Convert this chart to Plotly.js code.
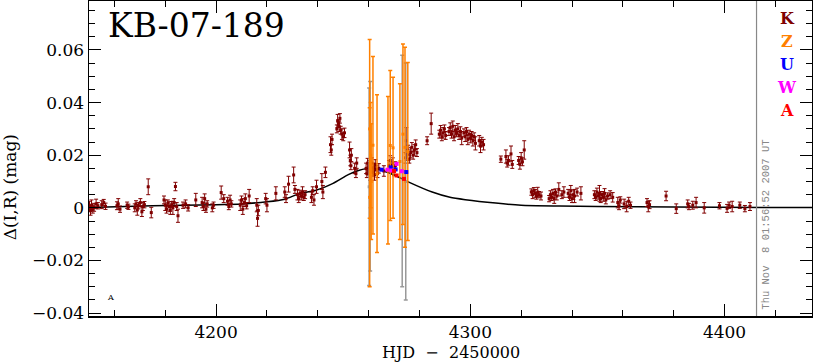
<!DOCTYPE html>
<html><head><meta charset="utf-8">
<script src="https://cdn.plot.ly/plotly-3.0.1.min.js"></script>
</head><body style="margin:0"><div id="chart"></div>
<script>
// Model curve
const modelT = [4150,4175,4200,4210,4220,4227,4233,4239,4246,4252,4256,4259,4262,4265,4270,4276,4285,4292,4298,4310,4320,4335,4350,4380,4435];
const modelY = [0.0001,0.0008,0.0012,0.0015,0.0023,0.0033,0.0055,0.0066,0.0093,0.0126,0.0142,0.0149,0.0150,0.0143,0.0125,0.0097,0.0060,0.0040,0.0031,0.0018,0.0010,0.0007,0.0005,0.0003,0.0001];

// K observatory
const kT = [4150.2,4150.6,4151.0,4151.5,4152.0,4152.8,4153.5,4155.0,4155.8,4156.5,4161.0,4161.5,4162.2,4165.0,4165.5,4168.0,4168.5,4169.0,4169.5,4170.2,4170.8,4171.2,4171.8,4173.3,4174.5,4179.5,4180.0,4180.5,4181.0,4181.5,4182.0,4182.5,4183.0,4183.5,4184.0,4184.5,4185.0,4187.0,4188.0,4189.0,4192.0,4194.5,4195.0,4195.5,4196.0,4196.5,4198.5,4199.0,4202.0,4203.0,4204.5,4205.0,4205.5,4206.0,4209.5,4210.0,4210.5,4211.0,4211.5,4212.0,4213.0,4216.0,4216.3,4216.6,4219.5,4220.0,4223.5,4227.0,4227.5,4228.5,4230.5,4231.0,4232.0,4232.5,4233.0,4233.5,4234.0,4234.5,4235.0,4237.5,4238.0,4238.5,4239.5,4241.6,4242.0,4243.0,4245.0,4245.3,4245.6,4247.5,4247.8,4248.1,4248.4,4248.7,4249.0,4249.5,4250.0,4250.5,4252.5,4252.8,4253.0,4253.2,4254.5,4255.0,4255.3,4259.0,4259.3,4259.6,4260.0,4260.3,4260.6,4261.0,4261.3,4261.6,4262.0,4262.3,4262.6,4263.0,4263.5,4264.0,4266.0,4268.0,4268.5,4269.0,4269.5,4270.0,4270.5,4274.5,4274.8,4275.0,4275.5,4276.0,4276.5,4277.0,4277.5,4278.0,4278.5,4279.0,4283.0,4284.6,4287.8,4288.3,4288.8,4289.3,4289.8,4290.3,4291.6,4292.1,4292.6,4293.1,4293.6,4294.1,4294.6,4295.1,4295.6,4296.1,4296.6,4297.5,4298.0,4298.5,4299.0,4299.5,4300.0,4300.5,4301.0,4301.5,4302.0,4303.5,4304.0,4304.5,4305.2,4312.0,4314.0,4314.5,4315.0,4316.0,4316.5,4319.0,4319.5,4320.0,4320.5,4321.2,4324.0,4324.5,4325.0,4325.5,4326.0,4326.5,4327.0,4327.8,4331.0,4331.5,4332.0,4332.5,4333.0,4333.5,4334.0,4334.8,4336.0,4336.8,4338.5,4339.0,4339.5,4340.0,4340.5,4341.0,4342.0,4343.5,4348.8,4349.3,4349.8,4350.3,4350.8,4351.3,4351.8,4352.3,4352.8,4353.3,4354.0,4355.0,4356.0,4358.0,4358.5,4359.0,4360.5,4361.5,4362.3,4363.0,4369.5,4370.0,4370.5,4377.0,4381.0,4385.5,4386.0,4387.5,4388.8,4392.0,4398.0,4401.0,4401.8,4403.0,4406.0,4408.0,4410.0];
const kY = [0.0005,-0.0010,0.0010,-0.0005,0.0002,0.0015,0.0008,0.0012,0.0020,0.0006,0.0008,0.0015,-0.0005,0.0010,0.0004,0.0000,0.0015,-0.0008,0.0008,0.0020,-0.0015,0.0005,0.0012,0.0080,-0.0018,0.0030,0.0010,-0.0005,0.0018,0.0005,-0.0010,0.0012,0.0000,0.0020,0.0081,0.0005,-0.0030,0.0010,0.0015,0.0000,0.0030,0.0020,0.0005,0.0035,-0.0005,0.0015,0.0000,0.0010,0.0058,0.0035,0.0025,0.0005,0.0030,0.0015,0.0010,0.0030,-0.0005,0.0020,0.0035,0.0008,0.0045,0.0010,-0.0040,-0.0010,0.0035,0.0010,0.0055,0.0060,0.0035,0.0090,0.0125,0.0070,0.0050,0.0035,0.0055,0.0045,0.0060,0.0040,0.0050,0.0040,0.0065,0.0030,0.0080,0.0100,0.0060,0.0135,0.0240,0.0220,0.0260,0.0300,0.0330,0.0320,0.0310,0.0340,0.0295,0.0280,0.0270,0.0285,0.0220,0.0180,0.0160,0.0200,0.0150,0.0130,0.0170,0.0150,0.0130,0.0170,0.0140,0.0160,0.0120,0.0150,0.0170,0.0135,0.0155,0.0125,0.0165,0.0145,0.0130,0.0150,0.0140,0.0160,0.0180,0.0150,0.0170,0.0140,0.0160,0.0190,0.0255,0.0200,0.0220,0.0185,0.0210,0.0230,0.0200,0.0220,0.0240,0.0210,0.0255,0.0320,0.0280,0.0295,0.0270,0.0285,0.0300,0.0275,0.0290,0.0305,0.0280,0.0310,0.0270,0.0295,0.0285,0.0300,0.0275,0.0290,0.0265,0.0285,0.0270,0.0290,0.0260,0.0280,0.0265,0.0275,0.0255,0.0270,0.0245,0.0255,0.0235,0.0250,0.0240,0.0185,0.0195,0.0170,0.0180,0.0205,0.0165,0.0180,0.0165,0.0190,0.0175,0.0220,0.0060,0.0050,0.0065,0.0055,0.0045,0.0060,0.0050,0.0045,0.0035,0.0050,0.0040,0.0055,0.0035,0.0060,0.0045,0.0070,0.0050,0.0060,0.0055,0.0040,0.0065,0.0035,0.0050,0.0045,0.0060,0.0055,0.0050,0.0040,0.0060,0.0045,0.0055,0.0035,0.0050,0.0040,0.0055,0.0030,0.0045,0.0050,0.0040,0.0020,0.0008,0.0030,0.0015,0.0005,0.0025,0.0010,0.0020,0.0005,0.0012,0.0045,-0.0003,0.0015,0.0005,0.0010,0.0020,0.0000,0.0008,-0.0002,0.0010,0.0005,0.0010,-0.0003,0.0005];
const kE = [0.0020,0.0018,0.0020,0.0015,0.0015,0.0018,0.0012,0.0015,0.0012,0.0012,0.0015,0.0020,0.0012,0.0012,0.0010,0.0015,0.0012,0.0020,0.0012,0.0015,0.0018,0.0015,0.0012,0.0030,0.0020,0.0015,0.0020,0.0015,0.0012,0.0018,0.0015,0.0012,0.0025,0.0015,0.0016,0.0015,0.0025,0.0012,0.0015,0.0012,0.0025,0.0020,0.0015,0.0018,0.0012,0.0012,0.0015,0.0012,0.0025,0.0015,0.0015,0.0012,0.0018,0.0012,0.0020,0.0015,0.0020,0.0015,0.0018,0.0012,0.0025,0.0025,0.0030,0.0020,0.0020,0.0025,0.0025,0.0020,0.0015,0.0030,0.0030,0.0015,0.0020,0.0015,0.0012,0.0015,0.0020,0.0012,0.0015,0.0020,0.0015,0.0020,0.0025,0.0030,0.0025,0.0020,0.0030,0.0020,0.0020,0.0015,0.0025,0.0015,0.0020,0.0018,0.0015,0.0020,0.0015,0.0018,0.0030,0.0020,0.0015,0.0025,0.0020,0.0015,0.0020,0.0020,0.0015,0.0018,0.0015,0.0020,0.0015,0.0018,0.0020,0.0015,0.0015,0.0020,0.0018,0.0015,0.0015,0.0018,0.0020,0.0020,0.0018,0.0015,0.0020,0.0018,0.0015,0.0020,0.0050,0.0020,0.0018,0.0015,0.0020,0.0018,0.0015,0.0020,0.0018,0.0015,0.0015,0.0040,0.0015,0.0018,0.0015,0.0020,0.0015,0.0015,0.0015,0.0018,0.0015,0.0020,0.0015,0.0018,0.0015,0.0020,0.0015,0.0018,0.0025,0.0015,0.0018,0.0015,0.0020,0.0015,0.0018,0.0015,0.0020,0.0015,0.0025,0.0020,0.0025,0.0018,0.0020,0.0012,0.0025,0.0015,0.0018,0.0030,0.0015,0.0015,0.0018,0.0020,0.0015,0.0035,0.0012,0.0015,0.0012,0.0015,0.0012,0.0018,0.0012,0.0015,0.0012,0.0015,0.0012,0.0015,0.0018,0.0012,0.0015,0.0025,0.0015,0.0020,0.0015,0.0012,0.0020,0.0015,0.0018,0.0025,0.0015,0.0025,0.0015,0.0012,0.0015,0.0012,0.0030,0.0015,0.0012,0.0015,0.0018,0.0015,0.0012,0.0015,0.0018,0.0020,0.0015,0.0012,0.0018,0.0020,0.0015,0.0012,0.0015,0.0020,0.0015,0.0018,0.0018,0.0015,0.0012,0.0015,0.0020,0.0020,0.0012,0.0015,0.0012,0.0020,0.0012,0.0012,0.0015];

// Z observatory
const zT = [4260.4,4260.4,4260.8,4261.0,4261.7,4263.3,4267.6,4268.5,4269.6,4272.3,4273.5,4274.3,4275.4];
const zY = [0.0300,0.0040,0.0200,0.0100,0.0238,0.0130,0.0143,0.0237,0.0228,0.0176,0.0280,0.0230,0.0214];
const zE = [0.0340,0.0340,0.0200,0.0220,0.0337,0.0300,0.0280,0.0285,0.0268,0.0296,0.0343,0.0380,0.0338];

// grey (rescaled) error bars behind Z
const gT = [4260.2,4260.6,4273.2,4274.6];
const gY = [0.0080,0.0120,0.0140,0.0100];
const gE = [0.0375,0.0360,0.0440,0.0450];

// U, W, A observatories
const uT = [4265.1,4268.7,4270.6,4274.8];
const uY = [0.0145,0.0154,0.0146,0.0136];
const wT = [4267.4,4269.0,4271.0,4273.0];
const wY = [0.0145,0.0142,0.0167,0.0139];
const aT = [4270.0,4271.0,4273.9];
const aY = [0.0140,0.0123,0.0110];

// Legend / ranges
const legendLetters = ['K','Z','U','W','A'];
const legendColors = ['#800000','#ff8000','#0000ff','#ff00ff','#ff0000'];
const plotTime = 4412.58;
const xRange = [4150, 4434.4];
const yRange = [-0.0411, 0.0786];

const serif = 'DejaVu Serif, Liberation Serif, serif';

function errTrace(x, y, e, color, thick) {
  return {type:'scatter', mode:'markers', x:x, y:y, hoverinfo:'skip',
    marker:{symbol:'square', size:3, color:color},
    error_y:{type:'data', array:e, visible:true, color:color, thickness:thick, width:2},
    showlegend:false};
}

const traces = [
  {type:'scatter', mode:'lines', x:modelT, y:modelY, line:{color:'#000', width:1.5, shape:'spline', smoothing:0.6}, showlegend:false, hoverinfo:'skip'},
  errTrace(kT, kY, kE, '#800000', 1),
  errTrace(gT, gY, gE, '#999999', 1.5),
  errTrace(zT, zY, zE, '#ff8000', 1.5),
  {type:'scatter', mode:'markers', x:uT, y:uY, marker:{symbol:'square', size:4, color:'#0000ff'}, showlegend:false},
  {type:'scatter', mode:'markers', x:wT, y:wY, marker:{symbol:'square', size:4, color:'#ff00ff'}, showlegend:false},
  {type:'scatter', mode:'markers', x:aT, y:aY, marker:{symbol:'square', size:4, color:'#ff0000'}, showlegend:false}
];

const annotations = [
  {text:'KB-07-189', xref:'paper', yref:'paper', x:0.024, y:0.99, xanchor:'left', yanchor:'top', showarrow:false, font:{family:serif, size:33, color:'#000'}},
  {text:'Δ(I,R) (mag)', xref:'paper', yref:'paper', x:-0.11, y:0.41, textangle:-90, xanchor:'center', yanchor:'middle', showarrow:false, font:{family:serif, size:17, color:'#000'}},
  {text:'HJD  −  2450000', xref:'paper', yref:'paper', x:0.5, y:-0.117, xanchor:'center', yanchor:'middle', showarrow:false, font:{family:serif, size:16, color:'#000'}},
  {text:'Thu Nov  8 01:56:52 2007 UT', xref:'x', yref:'paper', x:4416.3, y:0.29, textangle:-90, xanchor:'center', yanchor:'middle', showarrow:false, font:{family:'Liberation Mono, DejaVu Sans Mono, monospace', size:10.5, color:'#888'}},
  {text:'A', xref:'paper', yref:'paper', x:0.03, y:0.06, xanchor:'center', yanchor:'middle', showarrow:false, font:{family:serif, size:8, color:'#000'}}
];
legendLetters.forEach((L,i)=>{
  annotations.push({text:'<b>'+L+'</b>', xref:'paper', yref:'paper', x:0.966, y:0.945 - i*0.0735, xanchor:'center', yanchor:'middle', showarrow:false, font:{family:serif, size:16, color:legendColors[i]}});
});

const layout = {
  width:813, height:362, margin:{l:89, r:1, t:1, b:46},
  xaxis:{range:xRange, dtick:100, showgrid:false, zeroline:false, showline:true, linecolor:'#000', linewidth:1.5,
    mirror:'allticks', ticks:'inside', ticklen:12, tickcolor:'#000',
    tickfont:{family:serif, size:17, color:'#000'},
    minor:{dtick:20, ticklen:6, ticks:'inside'}},
  yaxis:{range:yRange, dtick:0.02, showgrid:false, zeroline:false, showline:true, linecolor:'#000', linewidth:1.5,
    mirror:'allticks', ticks:'inside', ticklen:12, tickcolor:'#000',
    tickfont:{family:serif, size:17, color:'#000'},
    minor:{dtick:0.005, ticklen:6, ticks:'inside'}},
  shapes:[{type:'line', xref:'x', yref:'paper', x0:plotTime, x1:plotTime, y0:0, y1:1, line:{color:'#888', width:1.2}}],
  annotations:annotations
};

Plotly.newPlot('chart', traces, layout, {staticPlot:true});
</script></body></html>
